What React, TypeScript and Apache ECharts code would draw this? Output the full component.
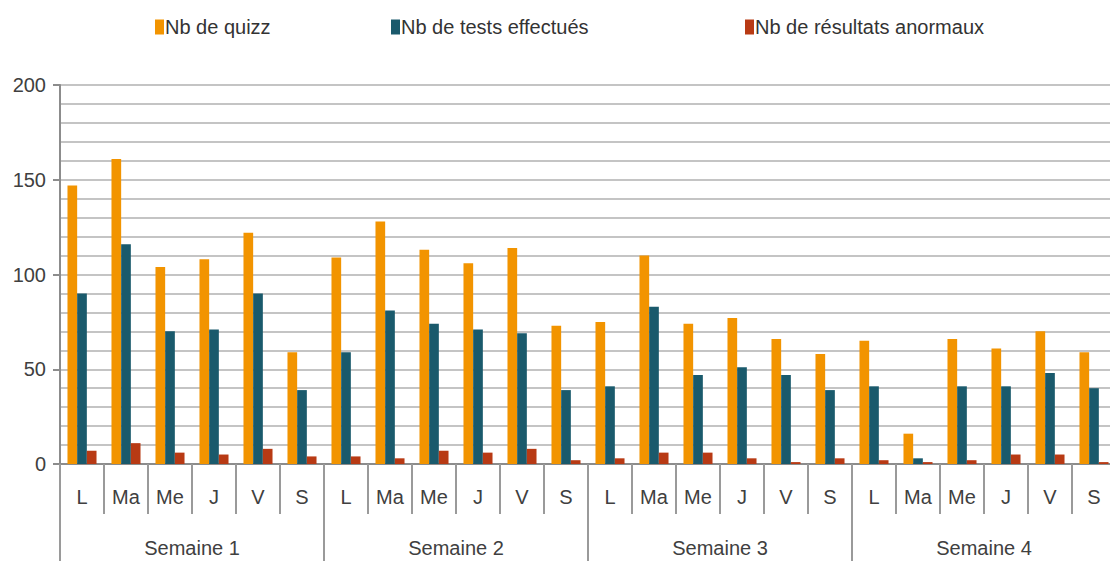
import React, { useEffect, useRef } from "react";
import * as echarts from "echarts";

const dayLabels = [
  "L", "Ma", "Me", "J", "V", "S",
  "L", "Ma", "Me", "J", "V", "S",
  "L", "Ma", "Me", "J", "V", "S",
  "L", "Ma", "Me", "J", "V", "S",
];
const weekLabels = ["Semaine 1", "Semaine 2", "Semaine 3", "Semaine 4"];
const yTicks = [0, 50, 100, 150, 200];

const seriesNames = ["Nb de quizz", "Nb de tests effectués", "Nb de résultats anormaux"];

const quizz = [
  147, 161, 104, 108, 122, 59,
  109, 128, 113, 106, 114, 73,
  75, 110, 74, 77, 66, 58,
  65, 16, 66, 61, 70, 59,
];
const tests = [
  90, 116, 70, 71, 90, 39,
  59, 81, 74, 71, 69, 39,
  41, 83, 47, 51, 47, 39,
  41, 3, 41, 41, 48, 40,
];
const anormaux = [
  7, 11, 6, 5, 8, 4,
  4, 3, 7, 6, 8, 2,
  3, 6, 6, 3, 1, 3,
  2, 1, 2, 5, 5, 1,
];

const colors = ["#F29400", "#1A5A6C", "#B83A14"];
const FONT = "Liberation Sans";

export default function App() {
  const ref = useRef<HTMLDivElement>(null);
  useEffect(() => {
    if (!ref.current) return;
    const chart = echarts.init(ref.current, undefined, { renderer: "svg" });
    const legendLefts = [150, 386, 740];
    const gridLine = { color: "#c4c4c4", width: 2 };
    chart.setOption({
      animation: false,
      backgroundColor: "#ffffff",
      textStyle: { fontFamily: FONT },
      legend: seriesNames.map((n, i) => ({
        data: [n],
        left: legendLefts[i],
        top: 12,
        itemWidth: 9,
        itemHeight: 15,
        itemGap: 0,
        icon: "rect",
        textStyle: { fontSize: 20, color: "#333333", fontFamily: FONT, padding: [0, 0, 0, -4] },
      })),
      grid: { left: 60, top: 85, right: 0, bottom: 97, containLabel: false },
      xAxis: [
        {
          type: "category",
          data: dayLabels,
          position: "bottom",
          axisLine: { show: true, lineStyle: { color: "#8c8c8c", width: 2 } },
          axisTick: { show: true, interval: 0, length: 50, lineStyle: { color: "#9a9a9a", width: 2 } },
          axisLabel: { interval: 0, fontSize: 20, margin: 23, color: "#404040", fontFamily: FONT },
        },
        {
          type: "category",
          data: weekLabels,
          position: "bottom",
          axisLine: { show: false },
          axisTick: { show: true, interval: 0, length: 110, lineStyle: { color: "#9a9a9a", width: 2 } },
          axisLabel: { interval: 0, fontSize: 20, margin: 74, color: "#404040", fontFamily: FONT },
        },
      ],
      yAxis: {
        type: "value",
        min: yTicks[0],
        max: yTicks[yTicks.length - 1],
        interval: 50,
        axisLine: { show: true, lineStyle: { color: "#8c8c8c", width: 2 } },
        axisTick: { show: true, length: 7, lineStyle: { color: "#8c8c8c", width: 2 } },
        axisLabel: { fontSize: 20, margin: 14, color: "#404040", fontFamily: FONT },
        splitLine: { show: true, lineStyle: gridLine },
        minorTick: { show: false, splitNumber: 5 },
        minorSplitLine: { show: true, lineStyle: gridLine },
      },
      series: [quizz, tests, anormaux].map((d, i) => ({
        name: seriesNames[i],
        type: "bar",
        xAxisIndex: 0,
        data: d,
        barGap: "0%",
        barCategoryGap: "34%",
        itemStyle: { color: colors[i] },
      })),
    });
    return () => chart.dispose();
  }, []);
  return (
    <div
      style={{
        position: "fixed",
        left: 0,
        top: 0,
        width: 1110,
        height: 561,
        overflow: "hidden",
        background: "#ffffff",
      }}
    >
      <div ref={ref} style={{ width: 1116, height: 561 }} />
    </div>
  );
}
